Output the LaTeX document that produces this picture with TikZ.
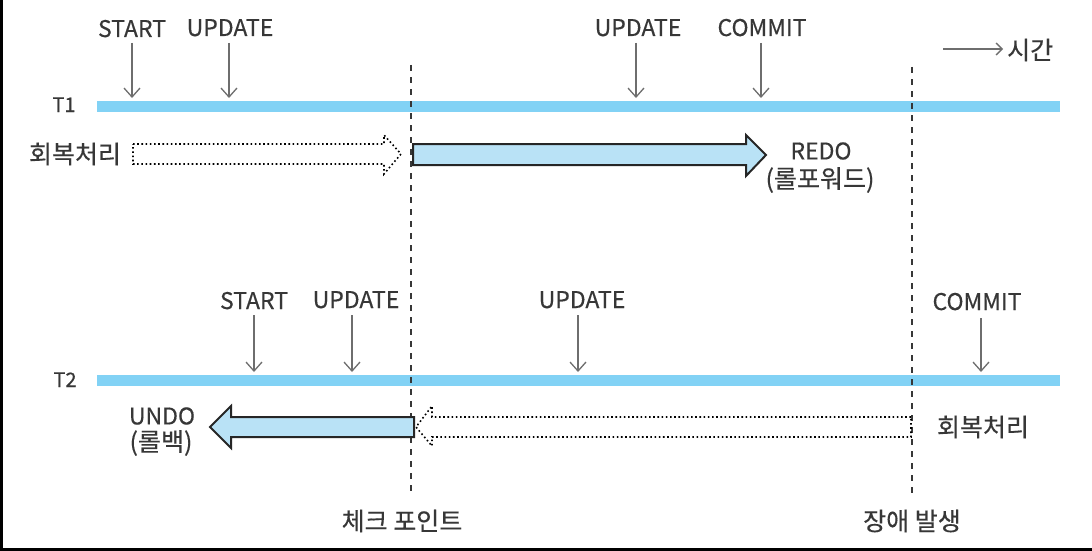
\documentclass[tikz,border=0pt]{standalone}
\usepackage{fontspec}
\setmainfont{Noto Sans CJK KR}[FakeBold=0.4]
\usetikzlibrary{arrows.meta}
\definecolor{tl}{RGB}{130,210,245}
\definecolor{bf}{RGB}{185,226,246}
\definecolor{txt}{RGB}{55,55,55}
\definecolor{ag}{RGB}{110,110,110}
\tikzset{
  lbl/.style={font=\fontsize{23}{26}\selectfont, text=txt, inner sep=0pt},
  klbl/.style={font=\fontsize{25}{28}\selectfont, text=txt, inner sep=0pt},
  tname/.style={font=\fontsize{20}{24}\selectfont, text=txt, inner sep=0pt},
  evt/.style={draw=ag, line width=1.3pt, -{Straight Barb[length=9pt,width=16pt,line width=1.3pt]}},
  tline/.style={draw=tl, line width=11pt},
  vdash/.style={draw=txt, line width=2.2pt, dash pattern=on 6pt off 6pt},
  blk/.style={draw=black!85, line width=2pt, fill=bf, line join=miter},
  dotblk/.style={draw=black, line width=1.6pt, dash pattern=on 1.6pt off 2.6pt, fill=white}
}
\begin{document}
\begin{tikzpicture}[x=1pt,y=-1pt]
\useasboundingbox (0,0) rectangle (1092,551);
\fill[white] (0,0) rectangle (1092,551);
\draw[black, line width=2.5pt] (1.25,0) -- (1.25,549.5) -- (1092,549.5);

% timelines
\coordinate (t1a) at (97,106);
\coordinate (t1b) at (1060,106);
\coordinate (t2a) at (97,380);
\coordinate (t2b) at (1060,380);
\draw[tline] (t1a) -- (t1b);
\draw[tline] (t2a) -- (t2b);
\node[tname, anchor=base] (T1) at (64,112) {T1};
\node[tname, anchor=base] (T2) at (65,387) {T2};

% vertical dashed lines
\coordinate (c1t) at (411,65);
\coordinate (c1b) at (411,493);
\coordinate (c2t) at (912,67);
\coordinate (c2b) at (912,493);
\draw[vdash] (c1t) -- (c1b);
\draw[vdash] (c2t) -- (c2b);

% T1 events
\node[lbl, anchor=base] (s1) at (132,37) {START};
\node[lbl, anchor=base] (u1) at (230,36) {UPDATE};
\node[lbl, anchor=base] (u2) at (638,36) {UPDATE};
\node[lbl, anchor=base] (m1) at (762,36) {COMMIT};
\coordinate (s1e) at (132,98);
\coordinate (u1e) at (229,98);
\coordinate (u2e) at (636,98);
\coordinate (m1e) at (761,98);
\draw[evt] (132,43) -- (s1e);
\draw[evt] (229,43) -- (u1e);
\draw[evt] (636,43) -- (u2e);
\draw[evt] (761,43) -- (m1e);

% time arrow
\coordinate (ta) at (943,49);
\coordinate (tb) at (1003,49);
\draw[draw=ag, line width=1.3pt, -{Straight Barb[length=6pt,width=12pt,line width=1.3pt]}] (ta) -- (tb);
\node[klbl, anchor=west] (time) at (1007,50) {시간};

% T1 recovery arrows
\node[klbl] (rec1) at (75,154) {회복처리};
\draw[dotblk] (133,144) -- (384,144) -- (384,135) -- (401,154) -- (384,174) -- (384,164) -- (133,164) -- cycle;
\draw[blk] (413,144) -- (746,144) -- (746,135) -- (766,155) -- (746,176) -- (746,165) -- (413,165) -- cycle;
\node[lbl] (redo) at (821,151) {REDO};
\node[klbl] (rf) at (820,180) {(롤포워드)};

% T2 events
\node[lbl, anchor=base] (s2) at (254,309) {START};
\node[lbl, anchor=base] (u3) at (356,308) {UPDATE};
\node[lbl, anchor=base] (u4) at (582,308) {UPDATE};
\node[lbl, anchor=base] (m2) at (977,310) {COMMIT};
\coordinate (s2e) at (254,372);
\coordinate (u3e) at (352,372);
\coordinate (u4e) at (578,372);
\coordinate (m2e) at (981,372);
\draw[evt] (254,315) -- (s2e);
\draw[evt] (352,315) -- (u3e);
\draw[evt] (578,315) -- (u4e);
\draw[evt] (981,318) -- (m2e);

% T2 recovery arrows
\draw[dotblk] (911,417) -- (432,417) -- (432,406) -- (416,427) -- (432,446) -- (432,437) -- (911,437) -- cycle;
\draw[blk] (414,417) -- (231,417) -- (231,406) -- (210,427) -- (231,448) -- (231,437) -- (414,437) -- cycle;
\node[lbl] (undo) at (162,416) {UNDO};
\node[klbl] (rb) at (161,443) {(롤백)};
\node[klbl] (rec2) at (983,427) {회복처리};

% bottom labels
\node[klbl] (cp) at (402,521) {체크 포인트};
\node[klbl] (fail) at (912,521) {장애 발생};
\end{tikzpicture}
\end{document}
